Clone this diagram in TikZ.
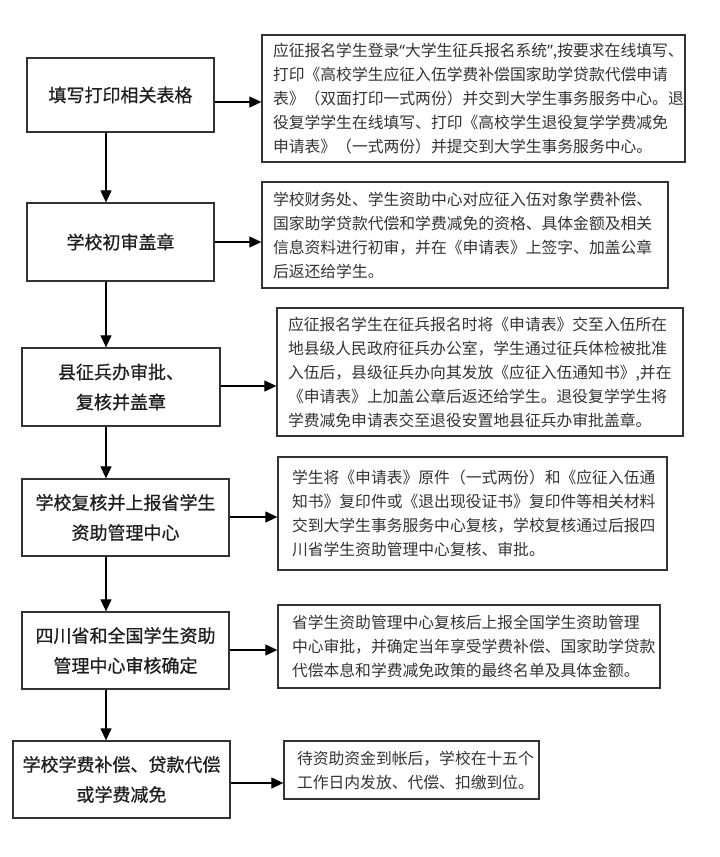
\documentclass[tikz,border=0pt]{standalone}
\usepackage{fontspec}
\setmainfont{Noto Sans CJK SC}
\newfontfamily\cjkb[FakeBold=0.7]{Noto Sans CJK SC}
\newfontfamily\latq{Noto Sans}
\usetikzlibrary{arrows.meta}
\definecolor{boxc}{HTML}{333333}
\definecolor{txtc}{HTML}{333333}
\begin{document}
\begin{tikzpicture}[x=1pt,y=-1pt,
 lbox/.style={draw=boxc, line width=1.3pt, inner sep=0pt, align=center, font=\cjkb\fontsize{18}{30}\selectfont, text=black!88},
 rbox/.style={draw=boxc, line width=1.3pt, inner xsep=11pt, inner ysep=0pt, align=left, font=\fontsize{15.8}{24}\selectfont, text=txtc},
 arr/.style={line width=1.2pt, -{Triangle[length=12pt,width=11pt]}}]
\useasboundingbox (0,0) rectangle (720,857);
% left boxes
\node[lbox, minimum width=187pt, minimum height=74pt] (b1) at (120.5,95) {填写打印相关表格};
\node[lbox, minimum width=187pt, minimum height=78pt] (b2) at (120.5,242) {学校初审盖章};
\node[lbox, minimum width=198pt, minimum height=78pt] (b3) at (121,387) {县征兵办审批、\\复核并盖章};
\node[lbox, minimum width=207pt, minimum height=77pt] (b4) at (125.5,517.5) {学校复核并上报省学生\\资助管理中心};
\node[lbox, minimum width=207pt, minimum height=77pt] (b5) at (125.5,650.5) {四川省和全国学生资助\\管理中心审核确定};
\node[lbox, minimum width=217pt, minimum height=77pt] (b6) at (121.5,779.5) {学校学费补偿、贷款代偿\\或学费减免};
% right boxes
\node[rbox, text width=401pt, minimum height=127pt] (r1) at (473.5,98.5) {应征报名学生登录{\latq “}大学生征兵报名系统{\latq ”},按要求在线填写、\\打印《高校学生应征入伍学费补偿国家助学贷款代偿申请\\表》（双面打印一式两份）并交到大学生事务服务中心。退\\役复学学生在线填写、打印《高校学生退役复学学费减免\\申请表》（一式两份）并提交到大学生事务服务中心。};
\node[rbox, text width=384pt, minimum height=106pt] (r2) at (465,235) {学校财务处、学生资助中心对应征入伍对象学费补偿、\\国家助学贷款代偿和学费减免的资格、具体金额及相关\\信息资料进行初审，并在《申请表》上签字、加盖公章\\后返还给学生。};
\node[rbox, text width=384pt, minimum height=128pt] (r3) at (480,372) {应征报名学生在征兵报名时将《申请表》交至入伍所在\\地县级人民政府征兵办公室，学生通过征兵体检被批准\\入伍后，县级征兵办向其发放《应征入伍通知书》,并在\\《申请表》上加盖公章后返还给学生。退役复学学生将\\学费减免申请表交至退役安置地县征兵办审批盖章。};
\node[rbox, inner xsep=14pt, text width=361pt, minimum height=113pt] (r4) at (472.5,513.5) {学生将《申请表》原件（一式两份）和《应征入伍通\\知书》复印件或《退出现役证书》复印件等相关材料\\交到大学生事务服务中心复核，学校复核通过后报四\\川省学生资助管理中心复核、审批。};
\node[rbox, inner xsep=14pt, text width=354pt, minimum height=83pt] (r5) at (469,646.5) {省学生资助管理中心复核后上报全国学生资助管理\\中心审批，并确定当年享受学费补偿、国家助学贷款\\代偿本息和学费减免政策的最终名单及具体金额。};
\node[rbox, inner xsep=13pt, text width=229pt, minimum height=58pt] (r6) at (411.5,770) {待资助资金到帐后，学校在十五个\\工作日内发放、代偿、扣缴到位。};
% connector helpers
\coordinate (ax) at (106,0);
\coordinate (h1) at (0,102);
\coordinate (h2) at (0,242);
\coordinate (h3) at (0,386);
\coordinate (h4) at (0,517);
\coordinate (h5) at (0,650);
\coordinate (h6) at (0,783);
% vertical arrows
\draw[arr] (b1.south -| ax) -- (b2.north -| ax);
\draw[arr] (b2.south -| ax) -- (b3.north -| ax);
\draw[arr] (b3.south -| ax) -- (b4.north -| ax);
\draw[arr] (b4.south -| ax) -- (b5.north -| ax);
\draw[arr] (b5.south -| ax) -- (b6.north -| ax);
% horizontal arrows
\draw[arr] (b1.east |- h1) -- (r1.west |- h1);
\draw[arr] (b2.east |- h2) -- (r2.west |- h2);
\draw[arr] (b3.east |- h3) -- (r3.west |- h3);
\draw[arr] (b4.east |- h4) -- (r4.west |- h4);
\draw[arr] (b5.east |- h5) -- (r5.west |- h5);
\draw[arr] (b6.east |- h6) -- (r6.west |- h6);
\end{tikzpicture}
\end{document}
